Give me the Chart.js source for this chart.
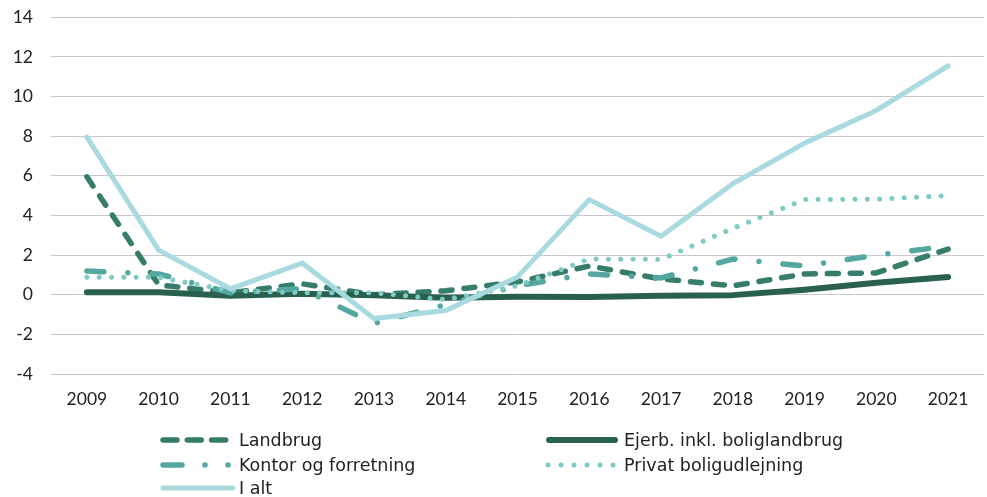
<!DOCTYPE html>
<html>
<head>
<meta charset="utf-8">
<script src="https://cdn.jsdelivr.net/npm/chart.js@4/dist/chart.umd.min.js"></script>
<style>
  html, body { margin: 0; padding: 0; background: #fff; }
  #wrap { position: relative; width: 987px; height: 497px; }
  #c { position: absolute; left: 0; top: 0; }
  .leg { position: absolute; font-family: 'DejaVu Sans', sans-serif; font-size: 17.5px; color: #222; line-height: 20px; white-space: nowrap; }
  .leg svg { position: absolute; left: 0; top: 0; }
  .leg span { position: absolute; top: 0; }
</style>
</head>
<body>
<div id="wrap">
  <canvas id="c" width="987" height="497"></canvas>
</div>
<script>
const years = ['2009','2010','2011','2012','2013','2014','2015','2016','2017','2018','2019','2020','2021'];
const landbrug = [5.95, 0.5, 0.1, 0.55, 0.0, 0.2, 0.65, 1.45, 0.8, 0.45, 1.05, 1.1, 2.3];
const ejerb    = [0.12, 0.12, -0.05, 0.05, -0.02, -0.15, -0.1, -0.12, -0.05, -0.02, 0.25, 0.6, 0.9];
const kontor   = [1.2, 1.05, 0.1, 0.3, -1.45, -0.5, 0.45, 1.05, 0.85, 1.8, 1.45, 2.0, 2.45];
const privat   = [0.88, 0.88, 0.2, 0.1, 0.1, -0.25, 0.45, 1.8, 1.78, 3.35, 4.8, 4.82, 5.0];
const ialt     = [7.95, 2.25, 0.3, 1.6, -1.2, -0.8, 0.9, 4.8, 2.95, 5.6, 7.65, 9.3, 11.55];
const seriesNames = ['Landbrug', 'Ejerb. inkl. boliglandbrug', 'Kontor og forretning', 'Privat boligudlejning', 'I alt'];

const C_LAND = '#377d6b', C_EJERB = '#29604f', C_KONTOR = '#55a8a0', C_PRIVAT = '#7dcbc2', C_IALT = '#a9dadf';
const FONT = "'Lato', sans-serif";

function ds(label, data, color, width, dash, order) {
  return { label, data, borderColor: color, backgroundColor: color, borderWidth: width,
    borderDash: dash, borderCapStyle: 'round', borderJoinStyle: 'round',
    pointRadius: 0, pointHoverRadius: 0, tension: 0, fill: false, order };
}

new Chart(document.getElementById('c'), {
  type: 'line',
  data: {
    labels: years,
    datasets: [
      ds(seriesNames[0], landbrug, C_LAND, 5.5, [11, 12], 4),
      ds(seriesNames[1], ejerb, C_EJERB, 6, [], 3),
      ds(seriesNames[2], kontor, C_KONTOR, 5.5, [17, 24, 0.01, 24], 2),
      ds(seriesNames[3], privat, C_PRIVAT, 5, [0.01, 12.3], 1),
      ds(seriesNames[4], ialt, C_IALT, 5, [], 0)
    ]
  },
  options: {
    responsive: false,
    animation: false,
    layout: { padding: { top: 17.3, right: 3, left: 0, bottom: 0 } },
    plugins: { legend: { display: false }, tooltip: { enabled: false } },
    scales: {
      x: {
        offset: true,
        grid: { display: false, drawTicks: false },
        border: { display: false },
        ticks: { color: '#222', font: { family: FONT, size: 17.5 }, padding: 15, maxRotation: 0 },
        afterFit: s => { s.height = 123; s.paddingLeft = 0; s.paddingRight = 0; }
      },
      y: {
        min: -4, max: 14,
        grid: { color: '#c9c7cd', lineWidth: 1, drawTicks: false },
        border: { display: false },
        ticks: { stepSize: 2, color: '#222', font: { family: FONT, size: 17.5 }, padding: 18 },
        afterFit: s => { s.width = 51; s.paddingTop = 0; s.paddingBottom = 0; }
      }
    }
  }
});

// HTML legend
const legendItems = [
  { name: seriesNames[0], x: 155, y: 430, tx: 84,
    svg: '<line x1="8" y1="10" x2="78" y2="10" stroke="' + C_LAND + '" stroke-width="5.5" stroke-linecap="round" stroke-dasharray="14 10.3"/>' },
  { name: seriesNames[1], x: 541, y: 430, tx: 83,
    svg: '<line x1="8" y1="10" x2="74" y2="10" stroke="' + C_EJERB + '" stroke-width="6" stroke-linecap="round"/>' },
  { name: seriesNames[2], x: 155, y: 455, tx: 84,
    svg: '<line x1="8" y1="10" x2="27" y2="10" stroke="' + C_KONTOR + '" stroke-width="5.5" stroke-linecap="round"/><circle cx="50" cy="10" r="2.8" fill="' + C_KONTOR + '"/><circle cx="73" cy="10" r="2.8" fill="' + C_KONTOR + '"/>' },
  { name: seriesNames[3], x: 541, y: 455, tx: 83,
    svg: '<line x1="7" y1="10" x2="73" y2="10" stroke="' + C_PRIVAT + '" stroke-width="5" stroke-linecap="round" stroke-dasharray="0.01 13"/>' },
  { name: seriesNames[4], x: 155, y: 478, tx: 84,
    svg: '<line x1="8" y1="10" x2="78" y2="10" stroke="' + C_IALT + '" stroke-width="5" stroke-linecap="round"/>' }
];
const wrap = document.getElementById('wrap');
legendItems.forEach(it => {
  const d = document.createElement('div');
  d.className = 'leg';
  d.style.left = it.x + 'px';
  d.style.top = it.y + 'px';
  d.innerHTML = '<svg width="84" height="20">' + it.svg + '</svg><span style="left:' + it.tx + 'px">' + it.name + '</span>';
  wrap.appendChild(d);
});
</script>
</body>
</html>
